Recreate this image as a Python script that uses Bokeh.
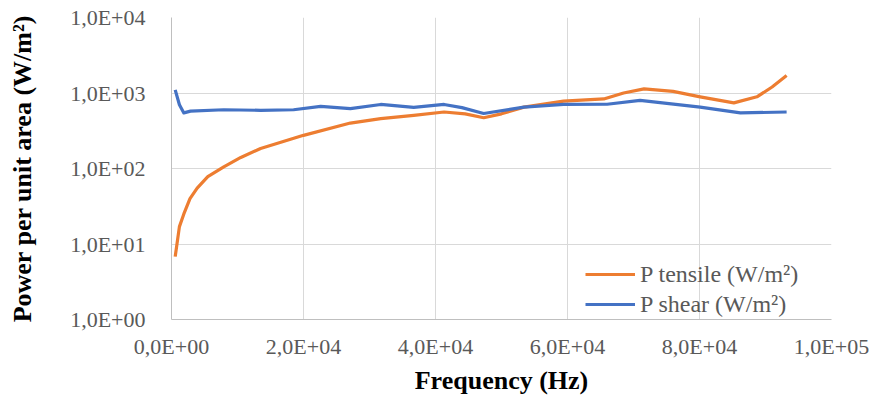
from bokeh.plotting import figure
from bokeh.models import FixedTicker, CustomJSTickFormatter, Range1d, Legend, LegendItem
from bokeh.embed import file_html
from bokeh.resources import INLINE

freq_tensile = [560, 1200, 1870, 2800, 3890, 5500, 7920, 10500, 13500, 20000, 27100, 31700, 36700,
                41300, 44500, 47300, 50000, 53400, 59400, 65500, 68500, 71600, 76000,
                80100, 85200, 88700, 91000, 93200]
p_tensile = [6.8, 17, 25, 40, 55, 78, 105, 140, 184, 275, 400, 457, 505,
             560, 530, 470, 530, 650, 780, 835, 1000, 1135, 1050,
             890, 740, 890, 1200, 1700]

freq_shear = [560, 1200, 1870, 2880, 7920, 13500, 18500, 22600, 27100, 31700, 36700, 41300,
              44000, 47300, 53400, 59400, 66000, 71000, 80100, 86200, 93200]
p_shear = [1100, 700, 545, 575, 600, 590, 600, 665, 620, 705, 645, 705,
           640, 535, 650, 705, 710, 800, 650, 545, 560]

x_ticks = [0, 20000, 40000, 60000, 80000, 100000]
y_ticks = [1, 10, 100, 1000, 10000]

SERIF = "Liberation Serif"

p = figure(width=873, height=397, y_axis_type="log", output_backend="svg",
           toolbar_location=None, x_range=Range1d(0, 100000), y_range=Range1d(1, 10000),
           min_border_left=171, min_border_right=42, min_border_top=17, min_border_bottom=77)
p.outline_line_color = None

fmt_js = """
const e = tick === 0 ? 0 : Math.floor(Math.log10(Math.abs(tick)) + 1e-9);
const m = tick / Math.pow(10, e);
return m.toFixed(1).replace('.', ',') + 'E' + (e < 0 ? '-' : '+') + String(Math.abs(e)).padStart(2, '0');
"""
p.xaxis.ticker = FixedTicker(ticks=x_ticks)
p.yaxis.ticker = FixedTicker(ticks=y_ticks)
p.xaxis.formatter = CustomJSTickFormatter(code=fmt_js)
p.yaxis.formatter = CustomJSTickFormatter(code=fmt_js)

for ax in (p.xaxis, p.yaxis):
    ax.major_tick_line_color = None
    ax.minor_tick_line_color = None
    ax.axis_line_color = "#bfbfbf"
    ax.major_label_text_font = SERIF
    ax.major_label_text_font_size = "22px"
    ax.major_label_text_color = "#595959"
    ax.axis_label_text_font = SERIF
    ax.axis_label_text_font_size = "26px"
    ax.axis_label_text_font_style = "bold"
    ax.axis_label_text_color = "#000000"

p.xaxis.axis_label = "Frequency (Hz)"
p.yaxis.axis_label = "Power per unit area (W/m²)"
p.xaxis.major_label_standoff = 8
p.yaxis.major_label_standoff = 20
p.xaxis.axis_label_standoff = 4
p.yaxis.axis_label_standoff = 30

p.xgrid.grid_line_color = "#d9d9d9"
p.ygrid.grid_line_color = "#d9d9d9"
p.ygrid.minor_grid_line_color = None

r1 = p.line(freq_tensile, p_tensile, line_color="#ED7D31", line_width=3.2, line_join="round")
r2 = p.line(freq_shear, p_shear, line_color="#4472C4", line_width=3.2, line_join="round")

legend = Legend(items=[LegendItem(label="P tensile (W/m²)", renderers=[r1]),
                       LegendItem(label="P shear (W/m²)", renderers=[r2])],
                location=(414, 0))
legend.background_fill_alpha = 0
legend.border_line_color = None
legend.label_text_font = SERIF
legend.label_text_font_size = "24px"
legend.label_text_color = "#595959"
legend.glyph_width = 50
legend.glyph_height = 30
legend.label_height = 30
legend.spacing = 0
legend.label_standoff = 5
legend.margin = 0
legend.padding = 0
p.add_layout(legend)

open("out.html", "w").write(file_html(p, INLINE))
